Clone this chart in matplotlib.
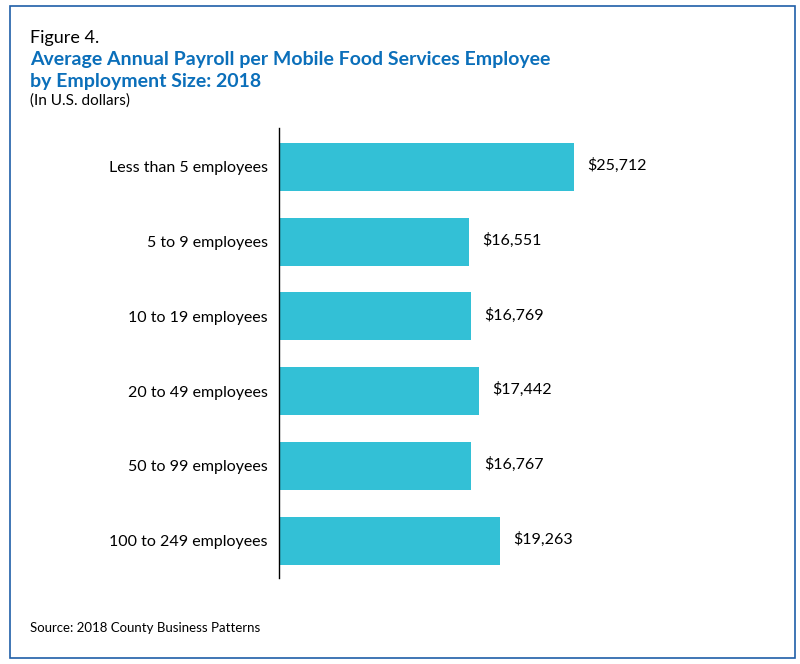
import matplotlib
matplotlib.use("Agg")
import matplotlib.pyplot as plt
from matplotlib.patches import Rectangle

plt.rcParams["font.family"] = ["Lato", "DejaVu Sans"]

categories = ["Less than 5 employees", "5 to 9 employees", "10 to 19 employees",
              "20 to 49 employees", "50 to 99 employees", "100 to 249 employees"]
payroll = [25712, 16551, 16769, 17442, 16767, 19263]

W, H = 800, 664
fig = plt.figure(figsize=(W / 100, H / 100), dpi=100)

# outer border
fig.patches.append(Rectangle((10 / W, 6 / H), 785 / W, 652 / H, transform=fig.transFigure,
                             fill=False, edgecolor="#1f5fa8", linewidth=1.2))

fig.text(30 / W, 1 - 38 / H, "Figure 4.", fontsize=13, color="black", va="center")
fig.text(30 / W, 1 - 60 / H, "Average Annual Payroll per Mobile Food Services Employee",
         fontsize=14, fontweight="bold", color="#0b6fba", va="center")
fig.text(30 / W, 1 - 82 / H, "by Employment Size: 2018",
         fontsize=14, fontweight="bold", color="#0b6fba", va="center")
fig.text(30 / W, 1 - 101 / H, "(In U.S. dollars)", fontsize=11, color="black", va="center")
fig.text(30 / W, 1 - 628 / H, "Source: 2018 County Business Patterns", fontsize=9.5,
         color="black", va="center")

ax = fig.add_axes([279 / W, 1 - 578 / H, 500 / W, 450 / H])
px = 25712 / 295.0
ax.set_xlim(0, 500 * px)
ys = list(range(len(categories)))
ax.barh(ys, payroll, height=0.64, color="#33c0d6")
ax.set_ylim(5.5, -0.52)
for y, v in zip(ys, payroll):
    ax.text(v + 13 * px, y - 0.02, f"${v:,}", va="center", ha="left", fontsize=11.5)
ax.set_yticks(ys)
ax.set_yticklabels(categories, fontsize=11.5)
ax.tick_params(axis="y", length=0, pad=8)
ax.set_xticks([])
for s in ["top", "right", "bottom"]:
    ax.spines[s].set_visible(False)
ax.spines["left"].set_linewidth(1.0)

fig.savefig("out.png", dpi=100)
